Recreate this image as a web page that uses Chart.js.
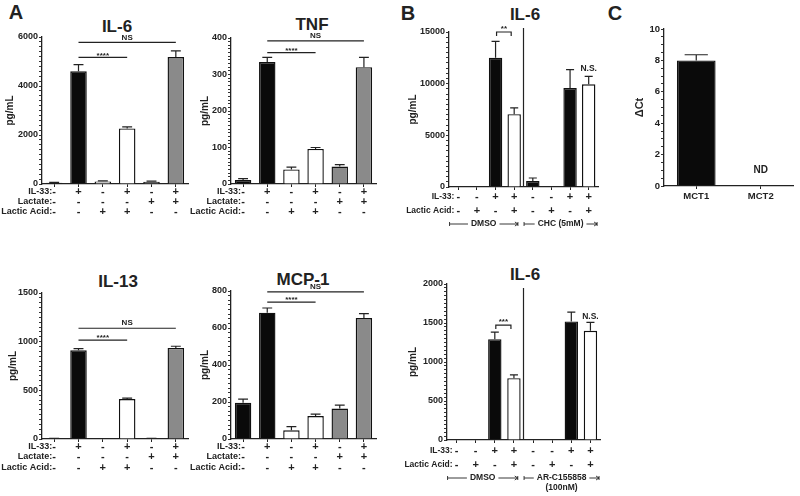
<!DOCTYPE html>
<html>
<head>
<meta charset="utf-8">
<script src="https://cdn.jsdelivr.net/npm/chart.js@4.4.1/dist/chart.umd.min.js"></script>
<style>
  html, body { margin: 0; padding: 0; background: #fff; overflow: hidden; }
  body { width: 800px; height: 496px; position: relative; font-family: "Liberation Sans", Arial, sans-serif; color: #222; }
  canvas { position: absolute; }
  .lbl { position: absolute; font-weight: bold; transform: translate(-50%, -50%); white-space: nowrap; }
  .ttl { font-size: 17px; }
  .letter { font-size: 20px; }
</style>
</head>
<body>

<div class="lbl letter" style="left:16px;top:12px">A</div>
<div class="lbl letter" style="left:408px;top:13px">B</div>
<div class="lbl letter" style="left:615px;top:13px">C</div>

<div class="lbl ttl" style="left:117px;top:27px">IL-6</div>
<div class="lbl ttl" style="left:312px;top:25px">TNF</div>
<div class="lbl ttl" style="left:118px;top:282px">IL-13</div>
<div class="lbl ttl" style="left:303px;top:280px">MCP-1</div>
<div class="lbl ttl" style="left:525px;top:15px">IL-6</div>
<div class="lbl ttl" style="left:525px;top:275px">IL-6</div>

<canvas id="il6"></canvas>
<canvas id="tnf"></canvas>
<canvas id="il13"></canvas>
<canvas id="mcp1"></canvas>
<canvas id="bTop"></canvas>
<canvas id="bBot"></canvas>
<canvas id="mct"></canvas>

<script>
// ---- panel A : conditions ----
const aCats = ['1', '2', '3', '4', '5', '6'];
const aIL33 = ['-', '+', '-', '+', '-', '+'];
const aLactate = ['-', '-', '-', '-', '+', '+'];
const aLacticAcid = ['-', '-', '+', '+', '-', '-'];

const il6Vals = [50, 4600, 100, 2270, 90, 5180];
const il6Err = [20, 270, 30, 60, 30, 250];
const tnfVals = [11, 334, 40, 96, 48, 320];
const tnfErr = [4, 13, 6, 4, 5, 27];
const il13Vals = [5, 912, 0, 410, 5, 936];
const il13Err = [2, 17, 0, 10, 2, 17];
const mcp1Vals = [196, 683, 47, 124, 165, 654];
const mcp1Err = [20, 25, 20, 11, 18, 24];

// ---- panel B : conditions ----
const bCats = ['1', '2', '3', '4', '5', '6', '7', '8'];
const bIL33 = ['-', '-', '+', '+', '-', '-', '+', '+'];
const bLacticAcid = ['-', '+', '-', '+', '-', '+', '-', '+'];

const chcVals = [0, 0, 12500, 7050, 580, 0, 9580, 9935];
const chcErr = [0, 0, 1600, 600, 290, 0, 1770, 770];
const arcVals = [0, 0, 1293, 792, 0, 0, 1520, 1400];
const arcErr = [0, 0, 90, 43, 0, 0, 120, 107];

// ---- panel C ----
const mctCats = ['MCT1', 'MCT2'];
const mctVals = [8.0, 0];
const mctErr = [0.36, 0];

const BLACK = '#0a0a0a', WHITE = '#ffffff', GRAY = '#8a8a8a', INK = '#222';
const FONT = '"Liberation Sans", Arial';
const aColors = [BLACK, BLACK, WHITE, WHITE, GRAY, GRAY];
const bColors = [BLACK, WHITE, BLACK, WHITE, BLACK, WHITE, BLACK, WHITE];

// draws error bars, condition rows and significance marks using the chart's scales
function decorPlugin(d) {
    return {
        id: 'decor',
        afterDatasetsDraw(chart) {
            const ctx = chart.ctx;
            const x = chart.scales.x, y = chart.scales.y;
            const area = chart.chartArea;
            const meta = chart.getDatasetMeta(0);
            const vals = chart.data.datasets[0].data;
            ctx.save();
            ctx.strokeStyle = INK;
            ctx.fillStyle = INK;
            ctx.lineWidth = 1.2;

            // error bars (upwards only)
            d.err.forEach((e, i) => {
                if (!e) return;
                const bar = meta.data[i];
                const y0 = y.getPixelForValue(vals[i]);
                const y1 = y.getPixelForValue(vals[i] + e);
                const cw = bar.width * 0.3;
                ctx.beginPath();
                ctx.moveTo(bar.x, y0);
                ctx.lineTo(bar.x, y1);
                ctx.moveTo(bar.x - cw, y1);
                ctx.lineTo(bar.x + cw, y1);
                ctx.stroke();
            });

            const step = x.getPixelForValue(1) - x.getPixelForValue(0);

            // condition rows
            (d.rows || []).forEach((r, k) => {
                const yy = area.bottom + d.rowOffsets[k];
                ctx.textBaseline = 'middle';
                ctx.font = 'bold ' + d.rowFont + 'px ' + FONT;
                ctx.textAlign = 'right';
                ctx.fillText(r.name, x.getPixelForValue(0) - d.labelGap, yy);
                ctx.font = 'bold 11px ' + FONT;
                ctx.textAlign = 'center';
                r.signs.forEach((s, i) => {
                    ctx.fillText(s, x.getPixelForValue(i), yy);
                });
            });

            // horizontal significance lines
            ctx.font = 'bold 8px ' + FONT;
            (d.sig || []).forEach(s => {
                const x1 = x.getPixelForValue(s.from), x2 = x.getPixelForValue(s.to);
                const yy = y.getPixelForValue(s.at);
                ctx.beginPath();
                ctx.moveTo(x1, yy);
                ctx.lineTo(x2, yy);
                ctx.stroke();
                ctx.textAlign = 'center';
                ctx.textBaseline = 'bottom';
                ctx.fillText(s.text, (x1 + x2) / 2, yy + (s.text[0] === '*' ? 2 : -1));
            });

            // brackets ("**" between two bars)
            (d.brackets || []).forEach(b => {
                const x1 = x.getPixelForValue(b.from) + 1, x2 = x.getPixelForValue(b.to) - 3;
                const yy = y.getPixelForValue(b.at);
                ctx.beginPath();
                ctx.moveTo(x1, yy + 4);
                ctx.lineTo(x1, yy);
                ctx.lineTo(x2, yy);
                ctx.lineTo(x2, yy + 4);
                ctx.stroke();
                ctx.textAlign = 'center';
                ctx.textBaseline = 'bottom';
                ctx.fillText(b.text, (x1 + x2) / 2, yy + 1);
            });

            // free labels (N.S., ND)
            (d.notes || []).forEach(n => {
                ctx.font = 'bold ' + (n.size || 8.5) + 'px ' + FONT;
                ctx.textAlign = 'center';
                ctx.textBaseline = 'middle';
                ctx.fillText(n.text, x.getPixelForValue(n.at), y.getPixelForValue(n.value));
            });

            // separator between treatment groups
            if (d.separator !== undefined) {
                const sx = (x.getPixelForValue(d.separator) + x.getPixelForValue(d.separator + 1)) / 2;
                ctx.beginPath();
                ctx.moveTo(sx, area.top + d.sepTop);
                ctx.lineTo(sx, area.bottom);
                ctx.stroke();
            }

            // group spans under the axis
            ctx.font = 'bold 8.5px ' + FONT;
            ctx.lineWidth = 0.9;
            (d.groups || []).forEach(g => {
                const x1 = x.getPixelForValue(g.from) - step * 0.47;
                const x2 = x.getPixelForValue(g.to) + step * g.right;
                const yy = area.bottom + d.groupOffset;
                const tw = ctx.measureText(g.text).width;
                const mid = (x1 + x2) / 2;
                ctx.beginPath();
                ctx.moveTo(x1, yy - 2); ctx.lineTo(x1, yy + 2);
                ctx.moveTo(x1, yy); ctx.lineTo(mid - tw / 2 - 3, yy);
                ctx.moveTo(mid + tw / 2 + 3, yy); ctx.lineTo(x2, yy);
                ctx.moveTo(x2 - 3, yy - 2); ctx.lineTo(x2, yy); ctx.lineTo(x2 - 3, yy + 2);
                ctx.moveTo(x2, yy - 2); ctx.lineTo(x2, yy + 2);
                ctx.stroke();
                ctx.textAlign = 'center';
                ctx.textBaseline = 'middle';
                ctx.fillText(g.text, mid, yy);
                if (g.sub) ctx.fillText(g.sub, mid, yy + 10);
            });
            ctx.restore();
        }
    };
}

function makePanel(p) {
    const cv = document.getElementById(p.id);
    cv.width = p.w; cv.height = p.h;
    cv.style.left = p.left + 'px'; cv.style.top = p.top + 'px';
    cv.style.width = p.w + 'px'; cv.style.height = p.h + 'px';

    const yW = p.plotLeft - p.left;
    const xH = p.top + p.h - p.plotBottom;
    const titleSize = p.yTitleSize || 10;

    return new Chart(cv, {
        type: 'bar',
        data: {
            labels: p.labels,
            datasets: [{
                data: p.values,
                backgroundColor: p.colors,
                borderColor: '#111',
                borderWidth: ctx => (p.values[ctx.dataIndex] ? 1.4 : 0),
                borderSkipped: 'bottom',
                barPercentage: p.barPct,
                categoryPercentage: 1
            }]
        },
        options: {
            responsive: false,
            animation: false,
            devicePixelRatio: 1,
            layout: {
                padding: {
                    top: p.plotTop - p.top,
                    right: p.left + p.w - p.plotRight,
                    left: 0,
                    bottom: 0
                }
            },
            plugins: { legend: { display: false }, tooltip: { enabled: false } },
            scales: {
                x: {
                    afterFit: s => { s.height = xH; },
                    grid: { display: true, drawOnChartArea: false, drawTicks: true, tickLength: 3, offset: false, color: INK },
                    border: { color: INK, width: 1.3 },
                    ticks: {
                        display: !!p.xTicks,
                        color: INK,
                        padding: 2,
                        font: { family: FONT, weight: 'bold', size: 9.5 }
                    }
                },
                y: {
                    min: 0,
                    max: p.max,
                    afterFit: s => { s.width = yW; },
                    grid: { drawOnChartArea: false, drawTicks: true, tickLength: 3, color: '#333', lineWidth: 1 },
                    border: { color: INK, width: 1.3 },
                    ticks: {
                        stepSize: p.minor,
                        autoSkip: false,
                        maxTicksLimit: 200,
                        padding: 1,
                        color: INK,
                        font: { family: FONT, weight: 'bold', size: p.tickSize || 9 },
                        callback: v => (Math.abs(v / p.major - Math.round(v / p.major)) < 1e-6 ? v : '')
                    },
                    title: {
                        display: true,
                        text: p.yTitle,
                        color: INK,
                        font: { family: FONT, weight: 'bold', size: titleSize },
                        padding: { top: p.yTitleX - p.left - titleSize * 0.6, bottom: 0 }
                    }
                }
            }
        },
        plugins: [decorPlugin(p.decor)]
    });
}

const aRows = [
    { name: 'IL-33:', signs: aIL33 },
    { name: 'Lactate:', signs: aLactate },
    { name: 'Lactic Acid:', signs: aLacticAcid }
];
const bRows = [
    { name: 'IL-33:', signs: bIL33 },
    { name: 'Lactic Acid:', signs: bLacticAcid }
];

makePanel({
    id: 'il6', left: 0, top: 20, w: 195, h: 200,
    plotLeft: 42, plotRight: 188, plotTop: 37, plotBottom: 184,
    labels: aCats, values: il6Vals, colors: aColors, barPct: 0.68,
    max: 6000, major: 2000, minor: 200, yTitle: 'pg/mL', yTitleX: 10,
    decor: {
        err: il6Err, rows: aRows, rowOffsets: [8, 18, 28], rowFont: 9, labelGap: 2,
        sig: [{ from: 1, to: 5, at: 5780, text: 'NS' }, { from: 1, to: 3, at: 5170, text: '****' }]
    }
});

makePanel({
    id: 'tnf', left: 185, top: 20, w: 200, h: 200,
    plotLeft: 231, plotRight: 376, plotTop: 38, plotBottom: 184,
    labels: aCats, values: tnfVals, colors: aColors, barPct: 0.68,
    max: 400, major: 100, minor: 10, yTitle: 'pg/mL', yTitleX: 205,
    decor: {
        err: tnfErr, rows: aRows, rowOffsets: [8, 18, 28], rowFont: 9, labelGap: 2,
        sig: [{ from: 1, to: 5, at: 392, text: 'NS' }, { from: 1, to: 3, at: 360, text: '****' }]
    }
});

makePanel({
    id: 'il13', left: 0, top: 275, w: 195, h: 200,
    plotLeft: 42, plotRight: 188, plotTop: 293, plotBottom: 439,
    labels: aCats, values: il13Vals, colors: aColors, barPct: 0.68,
    max: 1500, major: 500, minor: 50, yTitle: 'pg/mL', yTitleX: 13,
    decor: {
        err: il13Err, rows: aRows, rowOffsets: [8, 18, 29], rowFont: 9, labelGap: 2,
        sig: [{ from: 1, to: 5, at: 1138, text: 'NS' }, { from: 1, to: 3, at: 1015, text: '****' }]
    }
});

makePanel({
    id: 'mcp1', left: 185, top: 275, w: 200, h: 200,
    plotLeft: 231, plotRight: 376, plotTop: 291, plotBottom: 439,
    labels: aCats, values: mcp1Vals, colors: aColors, barPct: 0.68,
    max: 800, major: 200, minor: 25, yTitle: 'pg/mL', yTitleX: 205,
    decor: {
        err: mcp1Err, rows: aRows, rowOffsets: [8, 18, 29], rowFont: 9, labelGap: 2,
        sig: [{ from: 1, to: 5, at: 795, text: 'NS' }, { from: 1, to: 3, at: 740, text: '****' }]
    }
});

makePanel({
    id: 'bTop', left: 395, top: 0, w: 210, h: 235,
    plotLeft: 449, plotRight: 598, plotTop: 32, plotBottom: 187,
    labels: bCats, values: chcVals, colors: bColors, barPct: 0.72,
    max: 15000, major: 5000, minor: 500, yTitle: 'pg/mL', yTitleX: 413,
    decor: {
        err: chcErr, rows: bRows, rowOffsets: [10, 24], rowFont: 8.5, labelGap: 4,
        brackets: [{ from: 2, to: 3, at: 15000, text: '**' }],
        notes: [{ text: 'N.S.', at: 7, value: 11500 }],
        separator: 3, sepTop: -4,
        groupOffset: 37,
        groups: [{ from: 0, to: 3, right: 0.2, text: 'DMSO' }, { from: 4, to: 7, right: 0.45, text: 'CHC (5mM)' }]
    }
});

makePanel({
    id: 'bBot', left: 395, top: 250, w: 210, h: 246,
    plotLeft: 447, plotRight: 600, plotTop: 284, plotBottom: 440,
    labels: bCats, values: arcVals, colors: bColors, barPct: 0.7,
    max: 2000, major: 500, minor: 50, yTitle: 'pg/mL', yTitleX: 413,
    decor: {
        err: arcErr, rows: bRows, rowOffsets: [11, 25], rowFont: 8.5, labelGap: 4,
        brackets: [{ from: 2, to: 3, at: 1474, text: '***' }],
        notes: [{ text: 'N.S.', at: 7, value: 1580 }],
        separator: 3, sepTop: 4,
        groupOffset: 38,
        groups: [{ from: 0, to: 3, right: 0.2, text: 'DMSO' }, { from: 4, to: 7, right: 0.45, text: 'AR-C155858', sub: '(100nM)' }]
    }
});

makePanel({
    id: 'mct', left: 625, top: 10, w: 175, h: 200,
    plotLeft: 664, plotRight: 793, plotTop: 29, plotBottom: 186,
    labels: mctCats, values: mctVals, colors: [BLACK, BLACK], barPct: 0.6, xTicks: true,
    max: 10, major: 2, minor: 0.5, tickSize: 9.5, yTitle: '\u0394Ct', yTitleX: 640, yTitleSize: 11,
    decor: {
        err: mctErr,
        notes: [{ text: 'ND', at: 1, value: 1.0, size: 10 }]
    }
});
</script>
</body>
</html>
